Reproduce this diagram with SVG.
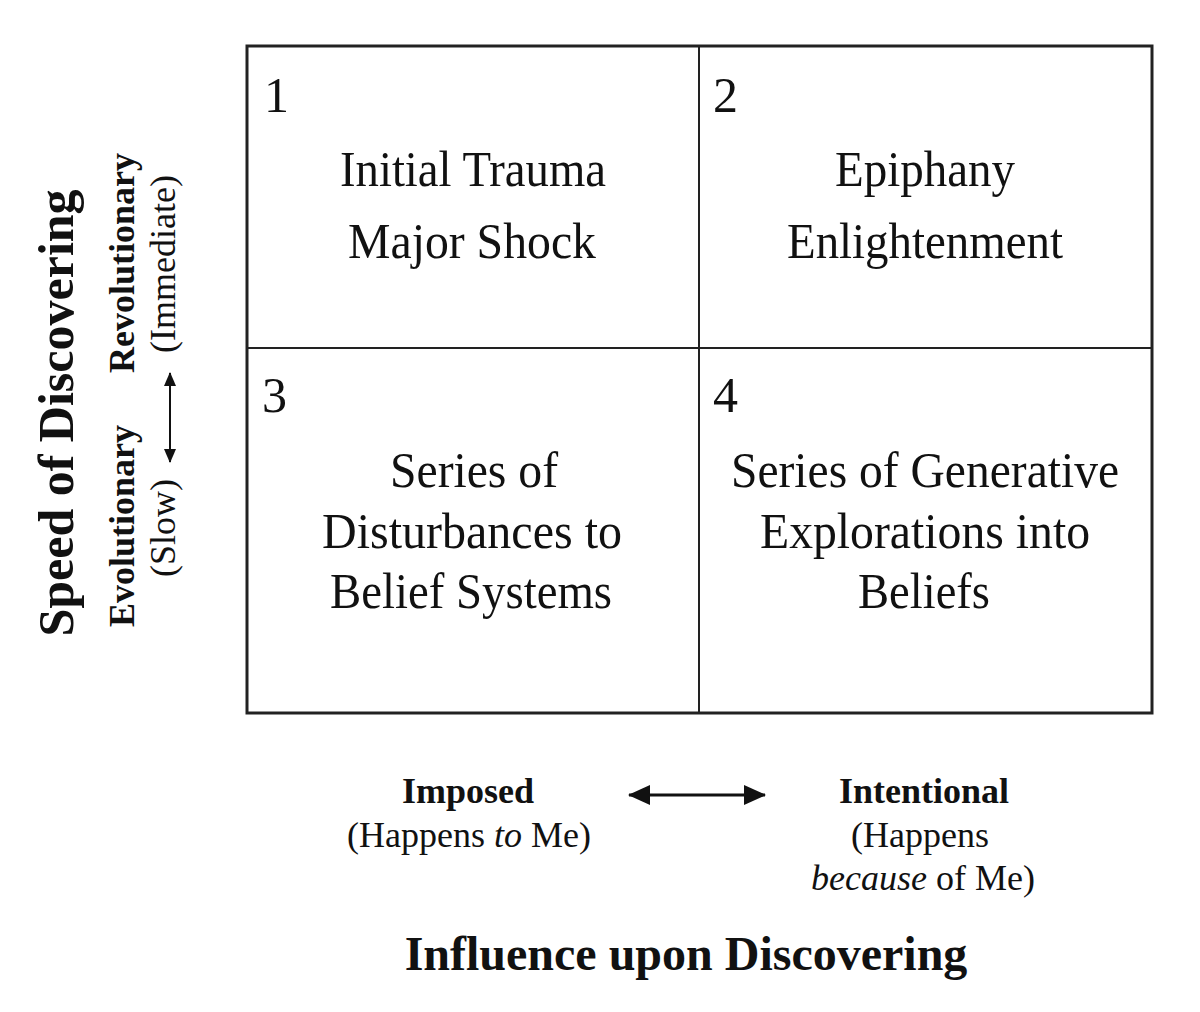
<svg xmlns="http://www.w3.org/2000/svg" width="1200" height="1012" viewBox="0 0 1200 1012">
<style>
text{font-family:"Liberation Serif","Times New Roman",serif;fill:#111}
.q{font-size:50px;text-anchor:middle}
.n{font-size:50px}
.b{font-weight:bold}
.s{font-size:36px;text-anchor:middle}
.t{font-size:48px;text-anchor:middle;font-weight:bold}
.grid{stroke:#222;fill:none}
.arr{stroke:#111;fill:none}
</style>
<defs>
<marker id="hd" viewBox="0 0 22 20" refX="21" refY="10" markerWidth="22" markerHeight="20" markerUnits="userSpaceOnUse" orient="auto-start-reverse">
<path d="M0,0 L22,10 L0,20 Z" fill="#111"/>
</marker>
<marker id="hs" viewBox="0 0 14 12" refX="13" refY="6" markerWidth="14" markerHeight="12" markerUnits="userSpaceOnUse" orient="auto-start-reverse">
<path d="M0,0 L14,6 L0,12 Z" fill="#111"/>
</marker>
</defs>
<rect width="1200" height="1012" fill="#fff"/>
<g id="matrix">
<rect class="grid" x="247" y="46" width="905" height="667" stroke-width="3"/>
<line class="grid" x1="699" y1="46" x2="699" y2="713" stroke-width="2"/>
<line class="grid" x1="247" y1="348" x2="1152" y2="348" stroke-width="2"/>
</g>
<g id="q1">
<text class="n" x="264" y="112">1</text>
<text class="q" x="473" y="186" textLength="266" lengthAdjust="spacingAndGlyphs">Initial Trauma</text>
<text class="q" x="472" y="258" textLength="248" lengthAdjust="spacingAndGlyphs">Major Shock</text>
</g>
<g id="q2">
<text class="n" x="713" y="112">2</text>
<text class="q" x="925" y="186" textLength="180" lengthAdjust="spacingAndGlyphs">Epiphany</text>
<text class="q" x="925" y="258" textLength="276" lengthAdjust="spacingAndGlyphs">Enlightenment</text>
</g>
<g id="q3">
<text class="n" x="262" y="412">3</text>
<text class="q" x="474" y="487" textLength="168" lengthAdjust="spacingAndGlyphs">Series of</text>
<text class="q" x="472" y="548" textLength="300" lengthAdjust="spacingAndGlyphs">Disturbances  to</text>
<text class="q" x="471" y="608" textLength="282" lengthAdjust="spacingAndGlyphs">Belief Systems</text>
</g>
<g id="q4">
<text class="n" x="713" y="412">4</text>
<text class="q" x="925" y="487" textLength="388" lengthAdjust="spacingAndGlyphs">Series of Generative</text>
<text class="q" x="925" y="548" textLength="330" lengthAdjust="spacingAndGlyphs">Explorations into</text>
<text class="q" x="924" y="608" textLength="132" lengthAdjust="spacingAndGlyphs">Beliefs</text>
</g>
<g id="y-axis">
<text class="t" transform="translate(73,413) rotate(-90)" style="font-size:50px">Speed of Discovering</text>
<text class="s b" transform="translate(134,263) rotate(-90)">Revolutionary</text>
<text class="s" transform="translate(175,264) rotate(-90)">(Immediate)</text>
<text class="s b" transform="translate(134,526) rotate(-90)">Evolutionary</text>
<text class="s" transform="translate(175,528) rotate(-90)">(Slow)</text>
</g>
<g id="x-axis">
<text class="s b" x="468" y="803">Imposed</text>
<text class="s" x="469" y="847">(Happens <tspan font-style="italic">to</tspan> Me)</text>
<text class="s b" x="924" y="803">Intentional</text>
<text class="s" x="920" y="847">(Happens</text>
<text class="s" x="923" y="890"><tspan font-style="italic">because</tspan> of Me)</text>
<text class="t" x="686" y="970">Influence upon Discovering</text>
</g>
<g id="connectors">
<line class="arr" x1="629" y1="795" x2="765" y2="795" stroke-width="3" marker-start="url(#hd)" marker-end="url(#hd)"/>
<line class="arr" x1="170" y1="373" x2="170" y2="462" stroke-width="2" marker-start="url(#hs)" marker-end="url(#hs)"/>
</g>
</svg>
